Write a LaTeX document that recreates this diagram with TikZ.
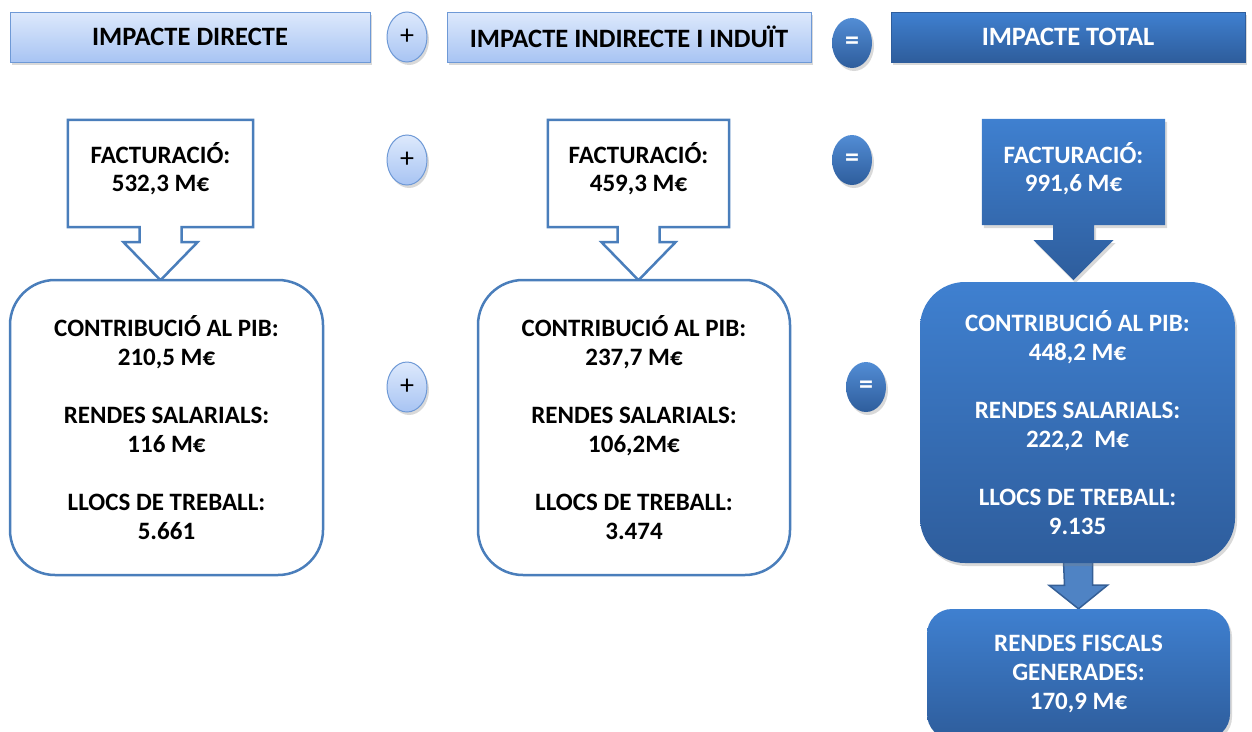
\documentclass[tikz,border=0pt]{standalone}
\usepackage{fontspec}
\setmainfont{Carlito}
\usetikzlibrary{positioning,calc,shadows,shapes.geometric,backgrounds}

\definecolor{lightTop}{HTML}{DDE9FC}
\definecolor{lightBot}{HTML}{A8C4F3}
\definecolor{lightLine}{HTML}{6E99D6}
\definecolor{darkTop}{HTML}{3F80D0}
\definecolor{darkBot}{HTML}{2E5D9C}
\definecolor{boxLine}{HTML}{4A7EBB}
\definecolor{arrowFill}{HTML}{4F83C4}
\definecolor{arrowLine}{HTML}{355F96}

\tikzset{
  txt/.style={font=\fontsize{25}{28}\selectfont\bfseries, align=center},
  headtxt/.style={font=\fontsize{26.5}{30}\selectfont\bfseries, align=center},
  softshadow/.style={drop shadow={opacity=0.3, shadow xshift=2pt, shadow yshift=-3pt}},
  headlight/.style={headtxt, rectangle, draw=lightLine, line width=1pt,
    top color=lightTop, bottom color=lightBot, minimum height=50pt, softshadow},
  headdark/.style={headtxt, text=white, rectangle, draw=darkBot, line width=0.5pt,
    top color=darkTop, bottom color=darkBot, minimum height=50pt, softshadow},
  plusop/.style={ellipse, draw=lightLine, line width=1pt, top color=lightTop,
    bottom color=lightBot, minimum width=40pt, minimum height=50pt, inner sep=0pt,
    font=\fontsize{28}{28}\selectfont, softshadow},
  eqop/.style={ellipse, top color=darkTop!90!white, bottom color=darkBot, text=white,
    minimum width=40pt, minimum height=50pt, inner sep=0pt,
    font=\fontsize{28}{28}\selectfont\bfseries, softshadow},
  callbox/.style={rectangle, inner sep=0pt},
  calloutw/.style={draw=boxLine, line width=2.5pt, fill=white, line join=miter},
  calloutd/.style={top color=darkTop, bottom color=darkBot, softshadow},
  roundw/.style={txt, font=\fontsize{25}{29}\selectfont\bfseries, rectangle, rounded corners=45pt,
    draw=boxLine, line width=2.5pt, fill=white},
  roundd/.style={txt, font=\fontsize{25}{29}\selectfont\bfseries, text=white, rectangle,
    rounded corners=45pt, top color=darkTop, bottom color=darkBot, softshadow},
  smallarrow/.style={fill=arrowFill, draw=arrowLine, line width=1.5pt, line join=miter}
}

\begin{document}
\begin{tikzpicture}[x=1pt,y=-1pt]
\useasboundingbox (0,0) rectangle (1252,731);

% headers
\node[headlight, minimum width=360pt] (hdir) at (190,37) {IMPACTE DIRECTE};
\node[headlight, minimum width=364pt] (hind) at (629,37) {IMPACTE INDIRECTE I INDUÏT};
\node[headdark, minimum width=354pt] (htot) at (1068,37) {IMPACTE TOTAL};

% operators
\node[plusop] (p1) at (407,37) {+};
\node[plusop] (p2) at (407,160) {+};
\node[plusop] (p3) at (407,387) {+};
\node[eqop] (e1) at (852,43) {=};
\node[eqop] (e2) at (852,160) {=};
\node[eqop] (e3) at (866,387) {=};

% facturacio callouts
\node[callbox, minimum width=185pt, minimum height=107pt] (fdir) at (160.5,173.5) {};
\node[callbox, minimum width=181pt, minimum height=107pt] (find) at (638.5,173.5) {};
\node[callbox, minimum width=183pt, minimum height=106pt] (ftot) at (1073.5,172) {};
\node[txt] (fdirtxt) at ($(fdir.center)+(0,-5)$) {FACTURACIÓ:\\532,3 M€};
\node[txt] (findtxt) at ($(find.center)+(0,-5)$) {FACTURACIÓ:\\459,3 M€};
\node[txt, text=white] (ftottxt) at ($(ftot.center)+(0,-3)$) {FACTURACIÓ:\\991,6 M€};

\begin{scope}[on background layer]
  \draw[calloutw] (fdir.south west) -- (fdir.north west) -- (fdir.north east) -- (fdir.south east)
    -- ($(fdir.south)+(21,0)$) -- ++(0,15) -- ++(16,0) -- ($(fdir.south)+(0,53)$)
    -- ($(fdir.south)+(-37,15)$) -- ++(16,0) -- ++(0,-15) -- cycle;
  \draw[calloutw] (find.south west) -- (find.north west) -- (find.north east) -- (find.south east)
    -- ($(find.south)+(21,0)$) -- ++(0,15) -- ++(16,0) -- ($(find.south)+(0,53)$)
    -- ($(find.south)+(-37,15)$) -- ++(16,0) -- ++(0,-15) -- cycle;
  \path[calloutd] (ftot.south west) -- (ftot.north west) -- (ftot.north east) -- (ftot.south east)
    -- ($(ftot.south)+(20.5,0)$) -- ++(0,15) -- ++(19.5,0) -- ($(ftot.south)+(0,55)$)
    -- ($(ftot.south)+(-40,15)$) -- ++(19.5,0) -- ++(0,-15) -- cycle;
\end{scope}

% result boxes
\node[roundw, minimum width=313pt, minimum height=295pt] (rdir) at (166.5,427.5)
  {CONTRIBUCIÓ AL PIB:\\210,5 M€\\[29pt]RENDES SALARIALS:\\116 M€\\[29pt]LLOCS DE TREBALL:\\5.661};
\node[roundw, minimum width=312pt, minimum height=295pt] (rind) at (634,427.5)
  {CONTRIBUCIÓ AL PIB:\\237,7 M€\\[29pt]RENDES SALARIALS:\\106,2M€\\[29pt]LLOCS DE TREBALL:\\3.474};
\node[roundd, minimum width=315pt, minimum height=281pt] (rtot) at (1077.5,422.5)
  {CONTRIBUCIÓ AL PIB:\\448,2 M€\\[29pt]RENDES SALARIALS:\\222,2~~M€\\[29pt]LLOCS DE TREBALL:\\9.135};
\node[roundd, rounded corners=25pt, minimum width=303pt, minimum height=130pt] (fisc) at (1078.5,674)
  {RENDES FISCALS\\GENERADES:\\170,9 M€};

\begin{scope}[on background layer]
  \draw[smallarrow] ($(rtot.south)+(-14,-2)$) -- ($(rtot.south)+(15,-2)$) -- ++(0,24) -- ++(15,0)
    -- (fisc.north) -- ++(-29.5,-23.5) -- ++(15.5,0) -- cycle;
\end{scope}
\end{tikzpicture}
\end{document}
